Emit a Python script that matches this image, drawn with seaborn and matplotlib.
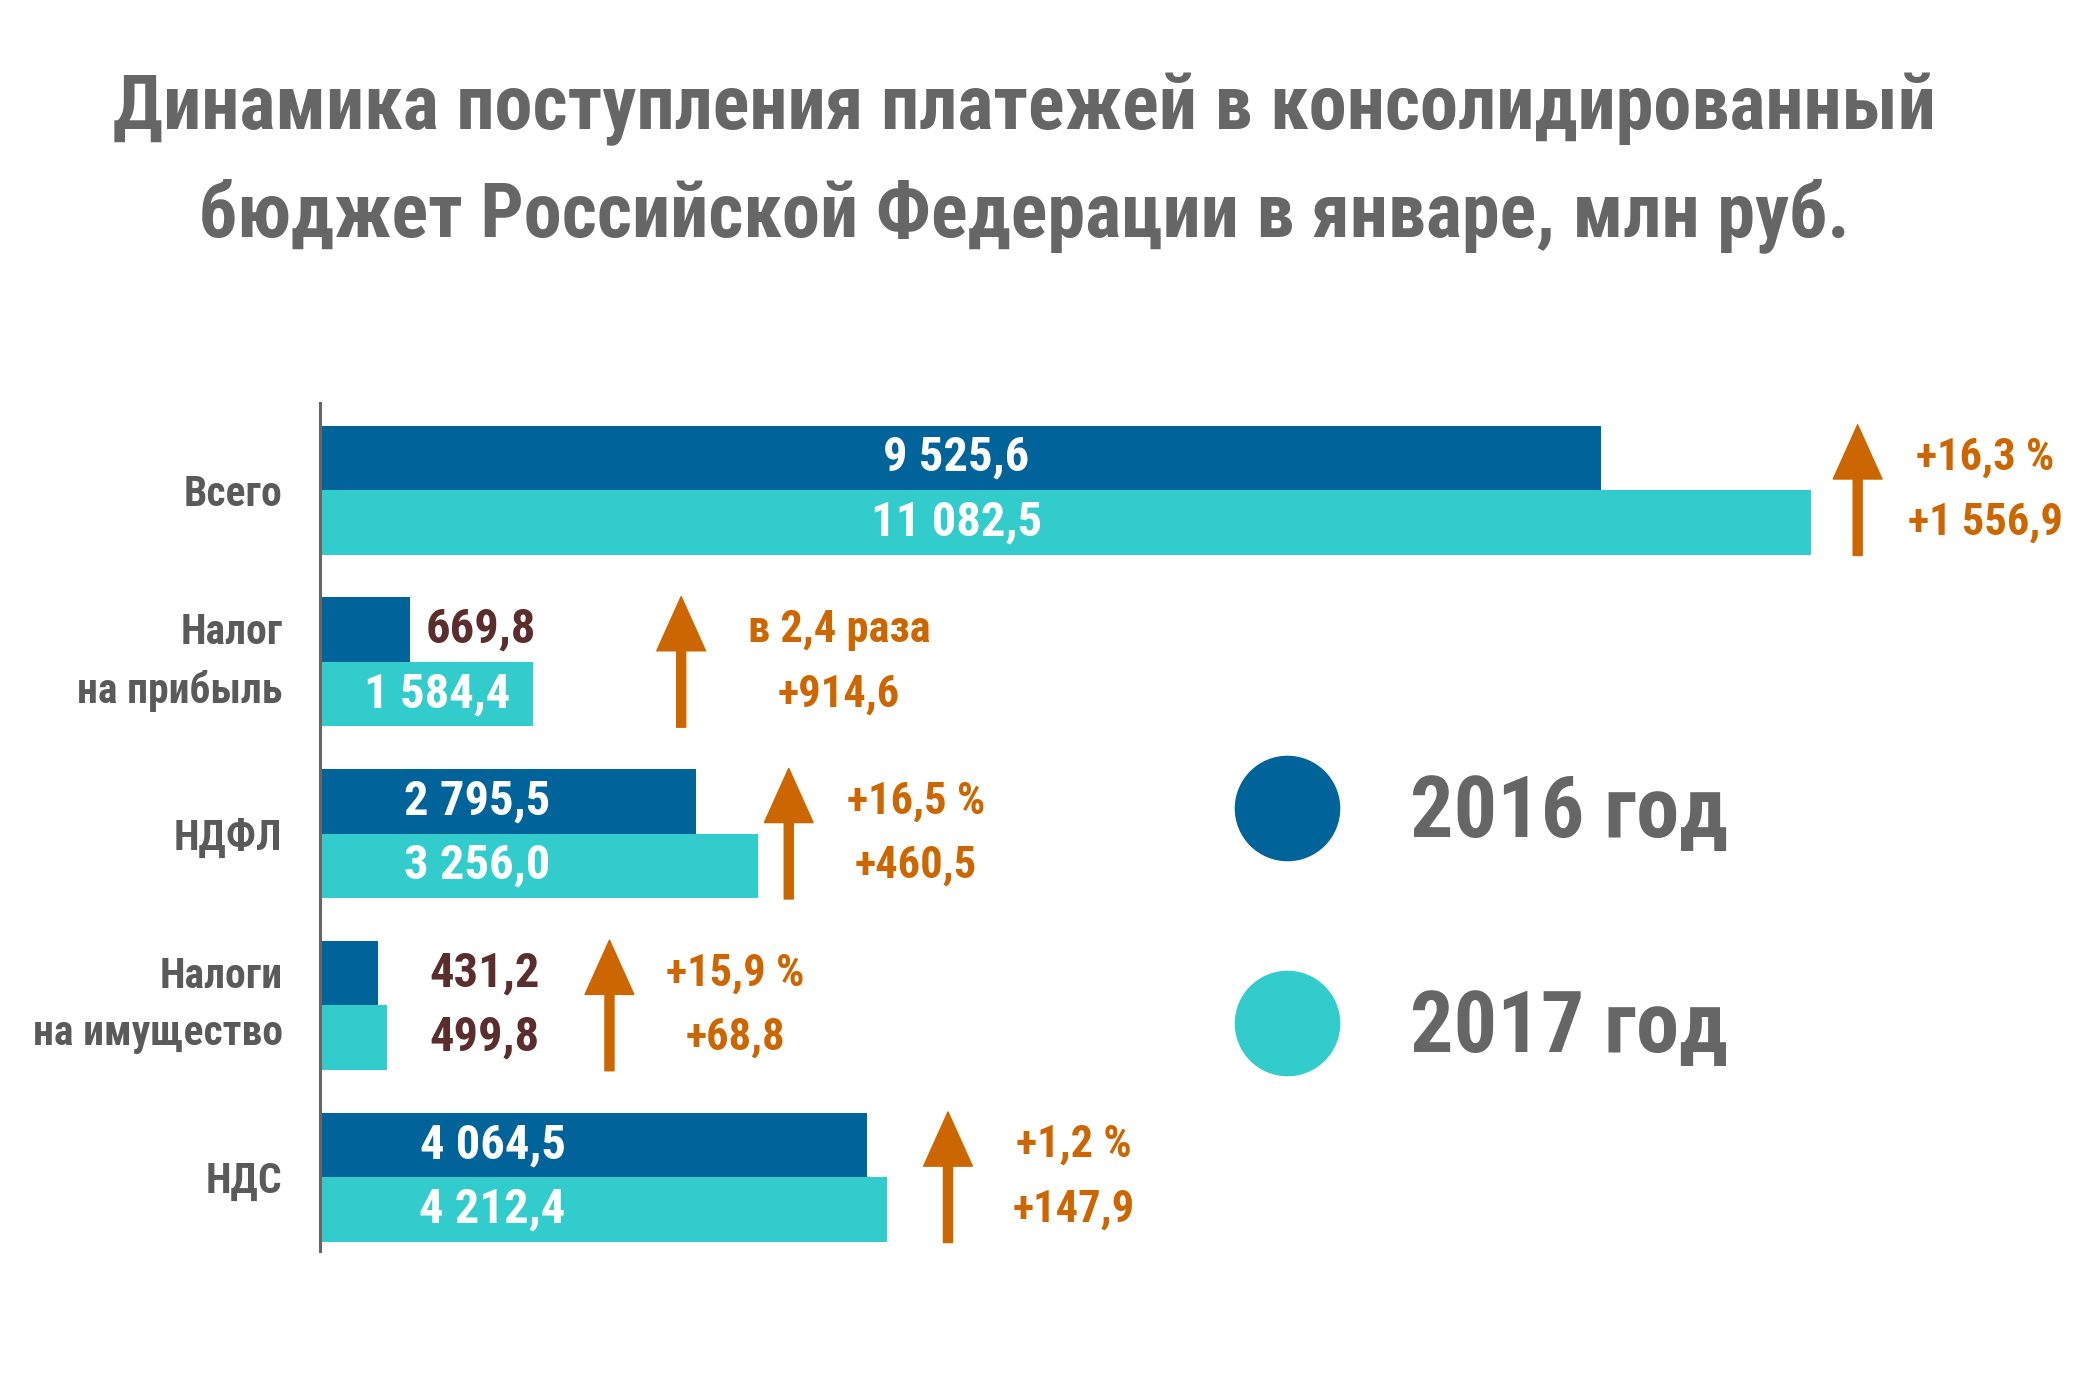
import matplotlib
matplotlib.use("Agg")
import matplotlib.pyplot as plt
from matplotlib.lines import Line2D
import seaborn as sns
import pandas as pd

# data
categories = ["Всего", "Налог\nна прибыль", "НДФЛ", "Налоги\nна имущество", "НДС"]
years = ["2016 год", "2017 год"]
values_2016 = [9525.6, 669.8, 2795.5, 431.2, 4064.5]
values_2017 = [11082.5, 1584.4, 3256.0, 499.8, 4212.4]
labels_2016 = ["9 525,6", "669,8", "2 795,5", "431,2", "4 064,5"]
labels_2017 = ["11 082,5", "1 584,4", "3 256,0", "499,8", "4 212,4"]
change_top = ["+16,3 %", "в 2,4 раза", "+16,5 %", "+15,9 %", "+1,2 %"]
change_bottom = ["+1 556,9", "+914,6", "+460,5", "+68,8", "+147,9"]

# layout (x in data units)
label_x = [4729, 1194, 1165, 1224, 1283]
label_x2 = [4729, 869, 1165, 1224, 1283]
inside_2016 = [True, False, True, False, True]
inside_2017 = [True, True, True, False, True]
arrow_x = [11432, 2685, 3485, 2152, 4669]
change_x = [12380, 3860, 4432, 3090, 5607]

BLUE = "#00649a"
CYAN = "#33cccc"
ORANGE = "#cc6600"
DARK = "#5c2d2d"
GRAY = "#666666"

df = pd.DataFrame({
    "cat": categories * 2,
    "year": [years[0]] * 5 + [years[1]] * 5,
    "value": values_2016 + values_2017,
})

sns.set_style("white")
plt.rcParams["font.family"] = ["Roboto Condensed", "DejaVu Sans"]
plt.rcParams["font.stretch"] = "condensed"
plt.rcParams["font.weight"] = "bold"

fig = plt.figure(figsize=(20.82, 13.88), dpi=100)
ax = fig.add_axes([0.1537, 0.0986, 0.8463, 0.6114])

sns.barplot(data=df, y="cat", x="value", hue="year", orient="h",
            palette=[BLUE, CYAN], width=0.75, saturation=1, linewidth=0,
            legend=False, ax=ax)

ax.set_xlim(0, 13100)
ax.set_ylim(4.43, -0.51)
ax.set_xlabel("")
ax.set_ylabel("")
ax.set_xticks([])
for s in ["top", "right", "bottom"]:
    ax.spines[s].set_visible(False)
ax.spines["left"].set_color(GRAY)
ax.spines["left"].set_linewidth(2.2)
ax.tick_params(axis="y", length=0, pad=27, labelsize=30, labelcolor="#5a5a5a")
for t in ax.get_yticklabels():
    t.set_fontweight("bold")
    t.set_fontstretch("condensed")
    t.set_linespacing(1.5)
    if "\n" in t.get_text():
        t.set_verticalalignment("center")

off = 0.1875
for i in range(len(categories)):
    ax.text(label_x[i], i - off, labels_2016[i], ha="center", va="center",
            fontsize=35, fontweight="bold",
            color="white" if inside_2016[i] else DARK)
    ax.text(label_x2[i], i + off, labels_2017[i], ha="center", va="center",
            fontsize=35, fontweight="bold",
            color="white" if inside_2017[i] else DARK)
    ax.annotate("", xy=(arrow_x[i], i - 0.38), xytext=(arrow_x[i], i + 0.38),
                arrowprops=dict(arrowstyle="simple,head_length=3.0,head_width=2.7,tail_width=0.5",
                                mutation_scale=13, color=ORANGE, shrinkA=0, shrinkB=0))
    ax.text(change_x[i], i - off, change_top[i], ha="center", va="center",
            fontsize=32, fontweight="bold", color=ORANGE)
    ax.text(change_x[i], i + off, change_bottom[i], ha="center", va="center",
            fontsize=32, fontweight="bold", color=ORANGE)

# legend
for yy, col, lab in [(0.418, BLUE, years[0]), (0.263, CYAN, years[1])]:
    fig.add_artist(Line2D([0.618], [yy], marker="o", markersize=75, color=col,
                          linestyle="", transform=fig.transFigure))
    fig.text(0.677, yy - 0.004, lab, ha="left", va="center", fontsize=62,
             fontweight="bold", color=GRAY)

fig.text(0.492, 0.921, "Динамика поступления платежей в консолидированный",
         ha="center", va="center", fontsize=55, fontweight="bold", color=GRAY)
fig.text(0.492, 0.845, "бюджет Российской Федерации в январе, млн руб.",
         ha="center", va="center", fontsize=55, fontweight="bold", color=GRAY)

fig.savefig("out.png", dpi=100, facecolor="white")
